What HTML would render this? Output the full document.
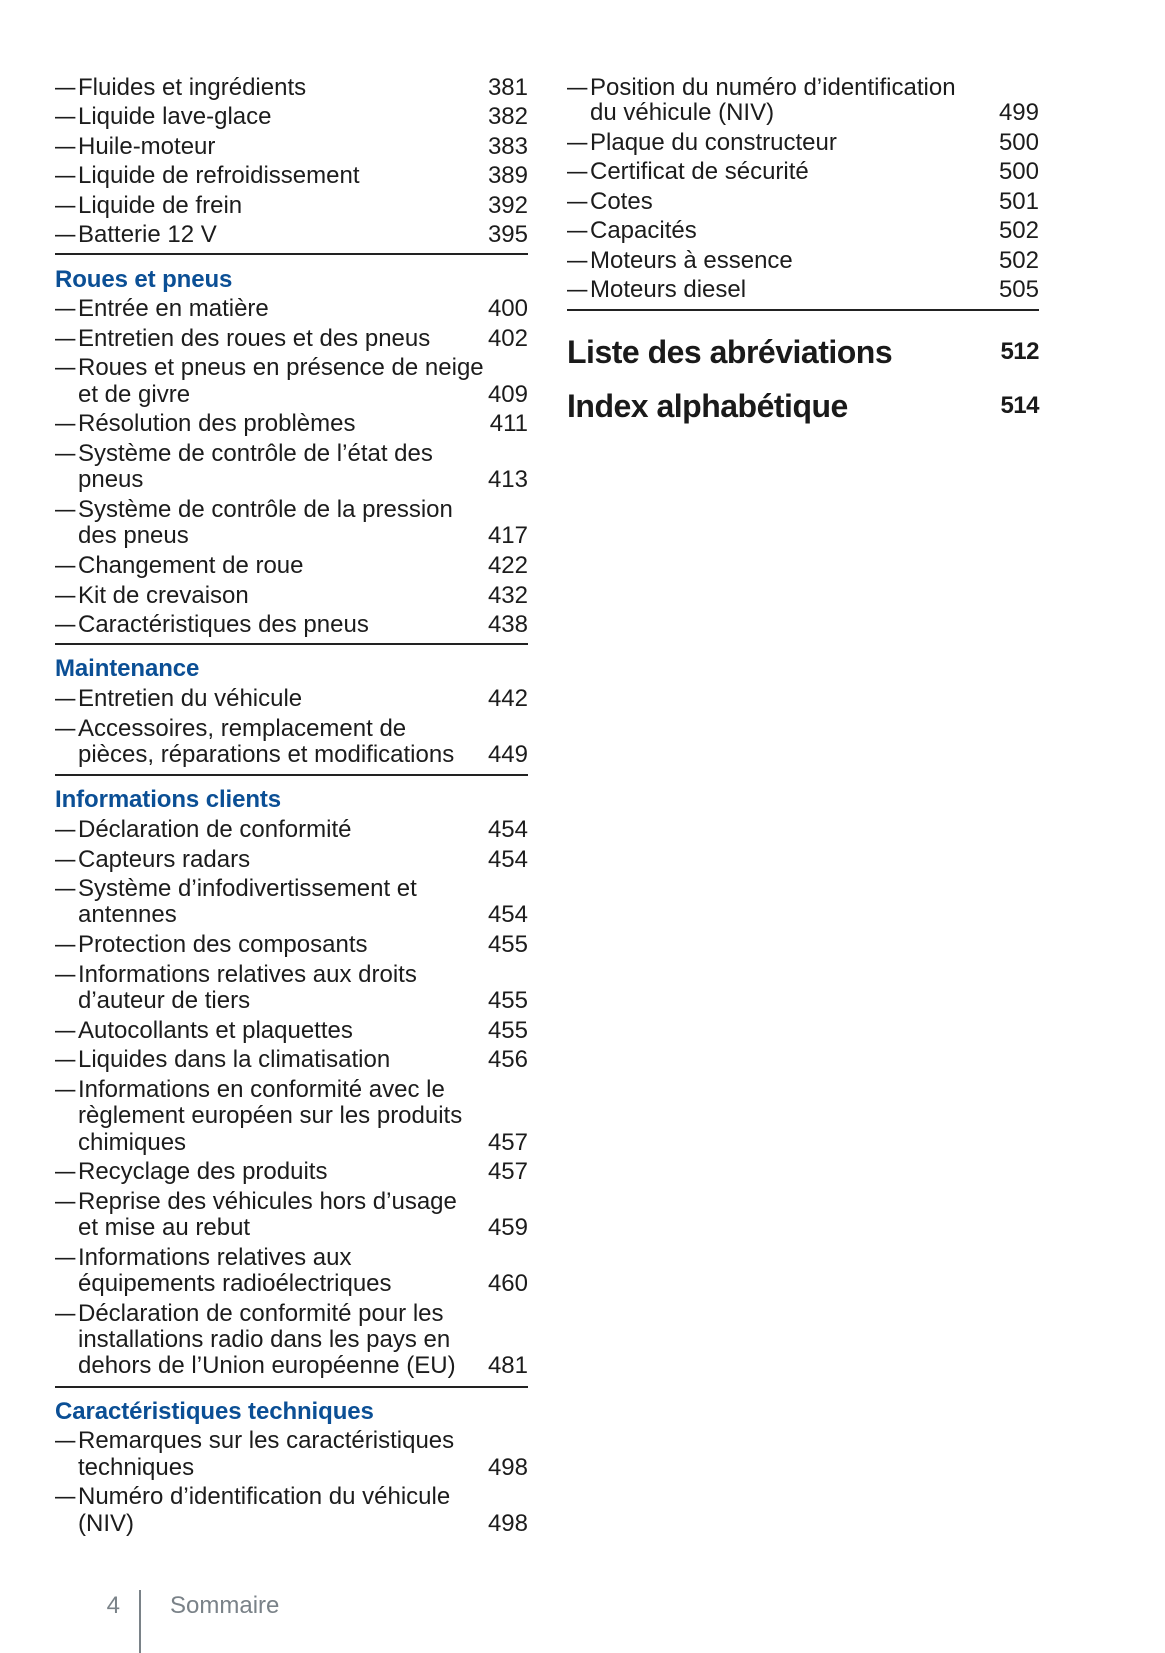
<!DOCTYPE html>
<html><head><meta charset="utf-8"><style>
body{margin:0;width:1165px;height:1653px;background:#fff;position:relative;overflow:hidden;font-family:"Liberation Sans",sans-serif;color:#1c1c1c}
.l{position:absolute;left:55px;width:473px;height:24px;line-height:24px;font-size:24px;white-space:nowrap;margin-top:1px}
.r{left:567px;width:472px}
.l .d{position:absolute;left:0;top:0;transform:scaleX(0.85);transform-origin:left}
.l .t{position:absolute;left:23px;top:0}
.l .n{position:absolute;right:0;top:0}
.h{position:absolute;left:55px;font-size:24px;font-weight:bold;color:#0b4f95;line-height:24px;letter-spacing:-0.1px;margin-top:1px}
.rule{position:absolute;left:55px;width:473px;height:2px;background:#222}
.big{position:absolute;left:567px;width:472px;font-size:32px;font-weight:bold;line-height:32px;letter-spacing:-0.5px;color:#1a1a1a;margin-top:1px}
.big span{position:absolute;right:0;font-size:24px}
</style></head><body>
<div class="l" style="top:75px"><span class="d">—</span><span class="t">Fluides et ingrédients</span><span class="n">381</span></div>
<div class="l" style="top:104px"><span class="d">—</span><span class="t">Liquide lave-glace</span><span class="n">382</span></div>
<div class="l" style="top:134px"><span class="d">—</span><span class="t">Huile-moteur</span><span class="n">383</span></div>
<div class="l" style="top:163px"><span class="d">—</span><span class="t">Liquide de refroidissement</span><span class="n">389</span></div>
<div class="l" style="top:193px"><span class="d">—</span><span class="t">Liquide de frein</span><span class="n">392</span></div>
<div class="l" style="top:222px"><span class="d">—</span><span class="t">Batterie 12 V</span><span class="n">395</span></div>
<div class="rule" style="top:253px"></div>
<div class="h" style="top:267px">Roues et pneus</div>
<div class="l" style="top:296px"><span class="d">—</span><span class="t">Entrée en matière</span><span class="n">400</span></div>
<div class="l" style="top:326px"><span class="d">—</span><span class="t">Entretien des roues et des pneus</span><span class="n">402</span></div>
<div class="l" style="top:355px"><span class="d">—</span><span class="t">Roues et pneus en présence de neige</span></div>
<div class="l" style="top:382px"><span class="t">et de givre</span><span class="n">409</span></div>
<div class="l" style="top:411px"><span class="d">—</span><span class="t">Résolution des problèmes</span><span class="n">411</span></div>
<div class="l" style="top:441px"><span class="d">—</span><span class="t">Système de contrôle de l’état des</span></div>
<div class="l" style="top:467px"><span class="t">pneus</span><span class="n">413</span></div>
<div class="l" style="top:497px"><span class="d">—</span><span class="t">Système de contrôle de la pression</span></div>
<div class="l" style="top:523px"><span class="t">des pneus</span><span class="n">417</span></div>
<div class="l" style="top:553px"><span class="d">—</span><span class="t">Changement de roue</span><span class="n">422</span></div>
<div class="l" style="top:583px"><span class="d">—</span><span class="t">Kit de crevaison</span><span class="n">432</span></div>
<div class="l" style="top:612px"><span class="d">—</span><span class="t">Caractéristiques des pneus</span><span class="n">438</span></div>
<div class="rule" style="top:643px"></div>
<div class="h" style="top:656px">Maintenance</div>
<div class="l" style="top:686px"><span class="d">—</span><span class="t">Entretien du véhicule</span><span class="n">442</span></div>
<div class="l" style="top:716px"><span class="d">—</span><span class="t">Accessoires, remplacement de</span></div>
<div class="l" style="top:742px"><span class="t">pièces, réparations et modifications</span><span class="n">449</span></div>
<div class="rule" style="top:774px"></div>
<div class="h" style="top:787px">Informations clients</div>
<div class="l" style="top:817px"><span class="d">—</span><span class="t">Déclaration de conformité</span><span class="n">454</span></div>
<div class="l" style="top:847px"><span class="d">—</span><span class="t">Capteurs radars</span><span class="n">454</span></div>
<div class="l" style="top:876px"><span class="d">—</span><span class="t">Système d’infodivertissement et</span></div>
<div class="l" style="top:902px"><span class="t">antennes</span><span class="n">454</span></div>
<div class="l" style="top:932px"><span class="d">—</span><span class="t">Protection des composants</span><span class="n">455</span></div>
<div class="l" style="top:962px"><span class="d">—</span><span class="t">Informations relatives aux droits</span></div>
<div class="l" style="top:988px"><span class="t">d’auteur de tiers</span><span class="n">455</span></div>
<div class="l" style="top:1018px"><span class="d">—</span><span class="t">Autocollants et plaquettes</span><span class="n">455</span></div>
<div class="l" style="top:1047px"><span class="d">—</span><span class="t">Liquides dans la climatisation</span><span class="n">456</span></div>
<div class="l" style="top:1077px"><span class="d">—</span><span class="t">Informations en conformité avec le</span></div>
<div class="l" style="top:1103px"><span class="t">règlement européen sur les produits</span></div>
<div class="l" style="top:1130px"><span class="t">chimiques</span><span class="n">457</span></div>
<div class="l" style="top:1159px"><span class="d">—</span><span class="t">Recyclage des produits</span><span class="n">457</span></div>
<div class="l" style="top:1189px"><span class="d">—</span><span class="t">Reprise des véhicules hors d’usage</span></div>
<div class="l" style="top:1215px"><span class="t">et mise au rebut</span><span class="n">459</span></div>
<div class="l" style="top:1245px"><span class="d">—</span><span class="t">Informations relatives aux</span></div>
<div class="l" style="top:1271px"><span class="t">équipements radioélectriques</span><span class="n">460</span></div>
<div class="l" style="top:1301px"><span class="d">—</span><span class="t">Déclaration de conformité pour les</span></div>
<div class="l" style="top:1327px"><span class="t">installations radio dans les pays en</span></div>
<div class="l" style="top:1353px"><span class="t">dehors de l’Union européenne (EU)</span><span class="n">481</span></div>
<div class="rule" style="top:1386px"></div>
<div class="h" style="top:1399px">Caractéristiques techniques</div>
<div class="l" style="top:1428px"><span class="d">—</span><span class="t">Remarques sur les caractéristiques</span></div>
<div class="l" style="top:1455px"><span class="t">techniques</span><span class="n">498</span></div>
<div class="l" style="top:1484px"><span class="d">—</span><span class="t">Numéro d’identification du véhicule</span></div>
<div class="l" style="top:1511px"><span class="t">(NIV)</span><span class="n">498</span></div>

<div class="l r" style="top:75px"><span class="d">—</span><span class="t">Position du numéro d’identification</span></div>
<div class="l r" style="top:100px"><span class="t">du véhicule (NIV)</span><span class="n">499</span></div>
<div class="l r" style="top:130px"><span class="d">—</span><span class="t">Plaque du constructeur</span><span class="n">500</span></div>
<div class="l r" style="top:159px"><span class="d">—</span><span class="t">Certificat de sécurité</span><span class="n">500</span></div>
<div class="l r" style="top:189px"><span class="d">—</span><span class="t">Cotes</span><span class="n">501</span></div>
<div class="l r" style="top:218px"><span class="d">—</span><span class="t">Capacités</span><span class="n">502</span></div>
<div class="l r" style="top:248px"><span class="d">—</span><span class="t">Moteurs à essence</span><span class="n">502</span></div>
<div class="l r" style="top:277px"><span class="d">—</span><span class="t">Moteurs diesel</span><span class="n">505</span></div>
<div class="rule" style="top:309px;left:567px;width:472px"></div>
<div class="big" style="top:335px">Liste des abréviations<span>512</span></div>
<div class="big" style="top:389px">Index alphabétique<span>514</span></div>

<div style="position:absolute;left:100px;top:1594px;width:20px;text-align:right;font-size:24px;line-height:24px;color:#7a8288">4</div>
<div style="position:absolute;left:139px;top:1590px;width:2px;height:63px;background:#7a8288"></div>
<div style="position:absolute;left:170px;top:1594px;font-size:24px;line-height:24px;color:#7a8288">Sommaire</div>
</body></html>
